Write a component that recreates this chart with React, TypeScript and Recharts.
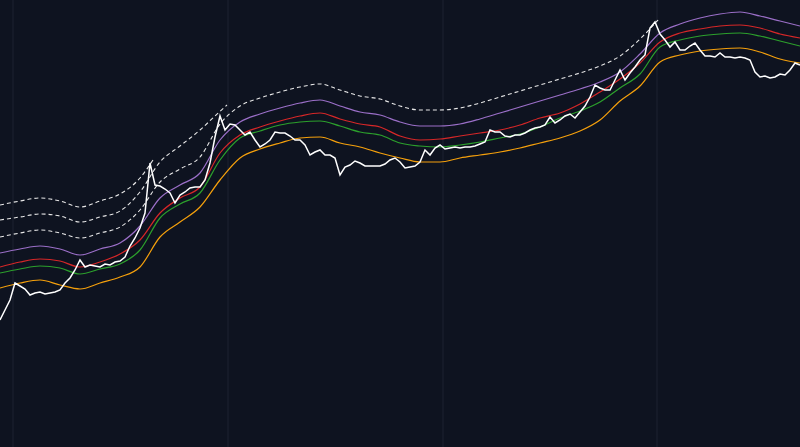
import { LineChart, Line, XAxis, YAxis, ReferenceLine } from 'recharts'

// price level, one reading every 5px step (t = index)
const price = [
  130, 140, 150, 167, 164, 161, 155, 157, 158, 156, 157, 158, 160, 167, 172, 180, 190, 183, 185, 184,
  183, 186, 185, 188, 189, 193, 204, 212, 222, 237, 287, 265, 264, 261, 257, 247, 255, 258, 262, 263,
  263, 270, 287, 313, 334, 320, 326, 325, 320, 315, 318, 310, 303, 306, 310, 318, 317, 317, 314, 310,
  310, 305, 295, 298, 300, 295, 295, 292, 275, 283, 285, 289, 287, 284, 284, 284, 284, 286, 290, 292,
  288, 282, 283, 284, 288, 300, 295, 302, 305, 301, 302, 303, 302, 303, 303, 304, 306, 308, 320, 318,
  318, 314, 313, 315, 315, 317, 320, 322, 323, 325, 333, 327, 330, 334, 336, 332, 338, 344, 353, 365,
  362, 360, 360, 370, 380, 370, 377, 383, 390, 395, 422, 428, 416, 410, 403, 408, 400, 400, 404, 407,
  400, 394, 394, 393, 397, 393, 393, 392, 393, 392, 390, 378, 373, 374, 372, 373, 376, 375, 380, 387,
  385,
]

const bandT = [
  0, 4, 8, 12, 16, 20, 24, 28, 32, 36, 40, 44, 48, 52, 56, 60, 64, 68, 72, 76, 80,
  84, 88, 92, 96, 100, 104, 108, 112, 116, 120, 124, 128, 132, 136, 140, 144, 148, 152, 156, 160,
]
const orangeBand = [
  162, 167, 170, 165, 161, 167, 173, 183, 213, 228, 243, 270, 292, 301, 307, 312, 313, 307, 303, 297, 292,
  288, 288, 292, 295, 298, 302, 307, 312, 319, 330, 349, 364, 388, 395, 399, 401, 402, 398, 391, 387,
]
const greenBand = [
  177, 181, 184, 182, 176, 181, 186, 200, 232, 246, 257, 290, 312, 319, 325, 328, 329, 324, 318, 315, 307,
  304, 303, 305, 308, 312, 316, 323, 332, 339, 348, 362, 376, 403, 410, 414, 416, 417, 414, 409, 404,
]
const redBand = [
  183, 188, 191, 189, 183, 188, 196, 210, 237, 252, 263, 297, 315, 323, 329, 334, 337, 331, 326, 323, 314,
  310, 311, 314, 317, 320, 325, 332, 337, 346, 358, 371, 387, 408, 417, 421, 424, 425, 422, 416, 412,
]
const purpleBand = [
  197, 201, 204, 201, 195, 201, 207, 224, 252, 265, 277, 310, 328, 336, 342, 347, 350, 344, 338, 335, 328,
  324, 324, 326, 331, 337, 343, 349, 355, 361, 368, 378, 396, 417, 426, 432, 436, 438, 434, 429, 424,
]

// dashed upper bands, each one stops at its own end point
const upper1T = [0, 4, 8, 12, 16, 20, 24, 28, 30.6]
const upper1 = [245, 249, 252, 249, 243, 249, 256, 272, 290]
const upper2T = [0, 4, 8, 12, 16, 20, 24, 28, 32, 36, 40, 43, 45.4]
const upper2 = [230, 233, 236, 234, 228, 233, 239, 258, 288, 304, 320, 334, 345]
const upper3T = [
  0, 4, 8, 12, 16, 20, 24, 28, 32, 36, 40, 44, 48, 52, 56, 60, 64, 68, 72, 76, 80,
  84, 88, 92, 96, 100, 104, 108, 112, 116, 120, 124, 128, 131.6,
]
const upper3 = [
  213, 217, 220, 217, 212, 217, 223, 240, 268, 281, 293, 326, 344, 352, 358, 363, 366, 360, 354, 351, 344,
  340, 340, 342, 347, 353, 359, 365, 371, 377, 384, 394, 411, 430,
]

const gridT = [2.6, 45.6, 88.6, 131.4]

const pts = (ts: number[], vs: number[]) => ts.map((t, i) => ({ t, v: vs[i] }))
const priceData = price.map((v, i) => ({ t: i, v }))

const bands = [
  { name: 'orange', data: pts(bandT, orangeBand), color: '#f5a00c' },
  { name: 'green', data: pts(bandT, greenBand), color: '#2ca02c' },
  { name: 'red', data: pts(bandT, redBand), color: '#d62728' },
  { name: 'purple', data: pts(bandT, purpleBand), color: '#9b6fc8' },
]
const dashed = [
  { name: 'upper1', data: pts(upper1T, upper1) },
  { name: 'upper2', data: pts(upper2T, upper2) },
  { name: 'upper3', data: pts(upper3T, upper3) },
]

export default function App() {
  return (
    <div style={{ position: 'absolute', left: 0, top: 0, width: 800, height: 447, background: '#0e1320' }}>
      <LineChart width={800} height={447} margin={{ top: 0, right: 0, bottom: 0, left: 0 }}>
        <XAxis type="number" dataKey="t" domain={[0, 160]} hide allowDataOverflow />
        <YAxis type="number" domain={[3, 450]} hide allowDataOverflow />
        {gridT.map((t) => (
          <ReferenceLine key={t} x={t} stroke="#1d2331" strokeWidth={1} />
        ))}
        {bands.map((b) => (
          <Line
            key={b.name}
            data={b.data}
            dataKey="v"
            type="monotone"
            stroke={b.color}
            strokeWidth={1.2}
            dot={false}
            activeDot={false}
            isAnimationActive={false}
          />
        ))}
        {dashed.map((d) => (
          <Line
            key={d.name}
            data={d.data}
            dataKey="v"
            type="monotone"
            stroke="#e8e8e8"
            strokeWidth={1.1}
            strokeDasharray="4 3"
            dot={false}
            activeDot={false}
            isAnimationActive={false}
          />
        ))}
        <Line
          data={priceData}
          dataKey="v"
          type="linear"
          stroke="#ffffff"
          strokeWidth={1.5}
          dot={false}
          activeDot={false}
          isAnimationActive={false}
        />
      </LineChart>
    </div>
  )
}
